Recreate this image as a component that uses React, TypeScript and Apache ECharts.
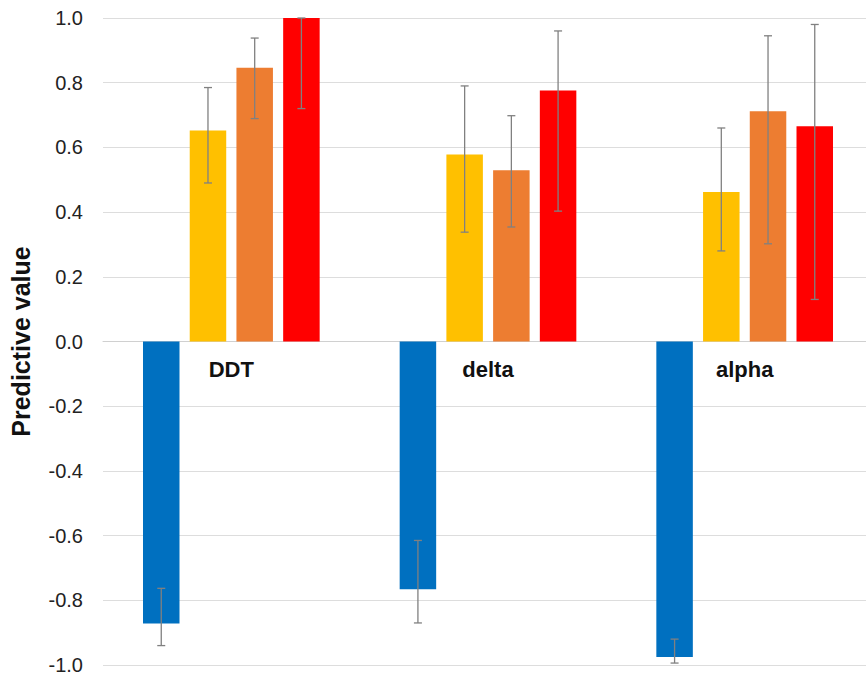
import React, { useEffect, useRef } from "react";
import * as echarts from "echarts";

const categories = ["DDT", "delta", "alpha"];
const seriesNames = ["S1", "S2", "S3", "S4"];
const seriesColors = ["#0070C0", "#FFC000", "#ED7D31", "#FF0000"];
const values = [
  [-0.872, -0.766, -0.975],
  [0.652, 0.578, 0.462],
  [0.846, 0.529, 0.712],
  [1.0, 0.776, 0.665],
];
const errLow = [
  [-0.94, -0.87, -0.994],
  [0.49, 0.338, 0.28],
  [0.689, 0.354, 0.302],
  [0.72, 0.403, 0.13],
];
const errHigh = [
  [-0.763, -0.615, -0.92],
  [0.785, 0.79, 0.66],
  [0.938, 0.698, 0.945],
  [1.0, 0.96, 0.98],
];
const yTicks = { min: -1, max: 1, interval: 0.2 };

const BAR_W = 36.5;
const BAR_GAP = 0.28;
const GRID_H = 647;

export default function App() {
  const ref = useRef<HTMLDivElement>(null);
  useEffect(() => {
    document.body.style.margin = "0";
    if (!ref.current) return;
    const chart = echarts.init(ref.current, null, { renderer: "svg" });
    const errData: number[][] = [];
    for (let s = 0; s < values.length; s++) {
      for (let c = 0; c < categories.length; c++) {
        errData.push([c, s, errLow[s][c], errHigh[s][c]]);
      }
    }
    const n = values.length;
    const step = BAR_W * (1 + BAR_GAP);
    const zeroOffset = -GRID_H * (0 - yTicks.min) / (yTicks.max - yTicks.min);
    chart.setOption({
      animation: false,
      grid: { left: 103, top: 18, width: 770, height: GRID_H, outerBoundsMode: "none", containLabel: false },
      xAxis: {
        type: "category",
        data: categories,
        offset: zeroOffset,
        axisLine: { onZero: false, lineStyle: { color: "#D0D0D0", width: 1 } },
        axisTick: { show: false },
        axisLabel: {
          margin: 17,
          fontSize: 22,
          fontWeight: "bold",
          color: "#111",
          fontFamily: "Liberation Sans, Arial, sans-serif",
        },
        splitLine: { show: false },
      },
      yAxis: {
        type: "value",
        min: yTicks.min,
        max: yTicks.max,
        interval: yTicks.interval,
        name: "Predictive value",
        nameLocation: "middle",
        nameGap: 70,
        nameTextStyle: {
          fontSize: 25,
          fontWeight: "bold",
          color: "#111",
          fontFamily: "Liberation Sans, Arial, sans-serif",
        },
        axisLine: { show: false },
        axisTick: { show: false },
        axisLabel: {
          margin: 20,
          fontSize: 20,
          lineHeight: 16,
          color: "#222",
          fontFamily: "Liberation Sans, Arial, sans-serif",
          formatter: (v: number) => v.toFixed(1),
        },
        splitLine: { lineStyle: { color: "#DDDDDD", width: 1 } },
      },
      series: [
        ...values.map((vals, i) => ({
          name: seriesNames[i],
          type: "bar",
          data: vals,
          barWidth: BAR_W,
          barGap: BAR_GAP * 100 + "%",
          itemStyle: { color: seriesColors[i] },
          z: 2,
        })),
        {
          type: "custom",
          z: 5,
          data: errData,
          renderItem: (params: any, api: any) => {
            const c = api.value(0);
            const s = api.value(1);
            const lo = api.coord([c, api.value(2)]);
            const hi = api.coord([c, api.value(3)]);
            const x = lo[0] + (s - (n - 1) / 2) * step;
            const cap = 4;
            const style = { stroke: "#808080", lineWidth: 1.3 };
            return {
              type: "group",
              children: [
                { type: "line", shape: { x1: x, y1: lo[1], x2: x, y2: hi[1] }, style },
                { type: "line", shape: { x1: x - cap, y1: lo[1], x2: x + cap, y2: lo[1] }, style },
                { type: "line", shape: { x1: x - cap, y1: hi[1], x2: x + cap, y2: hi[1] }, style },
              ],
            };
          },
        },
      ],
    });
    return () => chart.dispose();
  }, []);
  return <div ref={ref} style={{ width: 866, height: 678 }} />;
}
